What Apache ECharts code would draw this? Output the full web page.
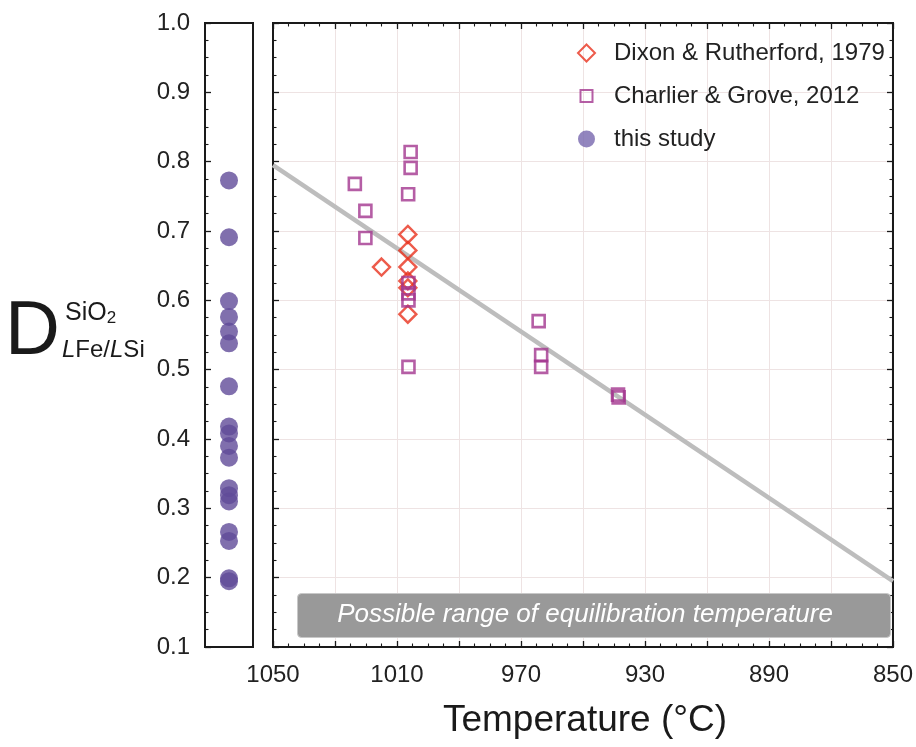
<!DOCTYPE html>
<html><head><meta charset="utf-8">
<script src="https://cdn.jsdelivr.net/npm/echarts@6/dist/echarts.min.js"></script>
<style>html,body{margin:0;padding:0;background:#fff}#c{width:916px;height:747px}</style>
</head><body><div id="c"></div>
<script>
// Dixon & Rutherford, 1979 : [temperature °C, D]
const dixonT = [1006.5, 1006.5, 1015, 1006.5, 1006.5, 1006.5, 1006.5];
const dixonD = [0.695, 0.672, 0.648, 0.648, 0.628, 0.618, 0.580];
// Charlier & Grove, 2012
const charlierT = [1005.6, 1005.6, 1023.6, 1006.4, 1020.2, 1020.2, 1006.3, 1006.3, 1006.3, 1006.3, 964.3, 963.5, 963.5, 938.7, 938.5];
const charlierD = [0.814, 0.791, 0.768, 0.753, 0.729, 0.690, 0.625, 0.610, 0.600, 0.504, 0.570, 0.521, 0.504, 0.464, 0.460];
// this study
const studyD = [0.773, 0.691, 0.599, 0.576, 0.555, 0.538, 0.476, 0.418, 0.408, 0.390, 0.373, 0.329, 0.319, 0.310, 0.266, 0.253, 0.199, 0.195];
// regression line end points
const fitT = [1050, 850];
const fitD = [0.795, 0.195];
const xTickLabels = [1050, 1010, 970, 930, 890, 850];
const yTickLabels = [0.1, 0.2, 0.3, 0.4, 0.5, 0.6, 0.7, 0.8, 0.9, 1.0];
const seriesNames = ['Dixon & Rutherford, 1979', 'Charlier & Grove, 2012', 'this study'];

const FONT = "'Liberation Sans', Arial, sans-serif";
const chart = echarts.init(document.getElementById('c'));
const tickStyle = {show: true, inside: true, length: 6, lineStyle: {color: '#1a1a1a', width: 1.3}};
const minorStyle = {show: true, splitNumber: 4, length: 3.5, lineStyle: {color: '#1a1a1a', width: 1.1}};
const lineBlack = {show: true, onZero: false, lineStyle: {color: '#1a1a1a', width: 2}};
const grid = {color: '#eee3e3', width: 1};

chart.setOption({
  animation: false,
  grid: [
    {left: 205, top: 23, width: 48, height: 624, show: true, borderColor: '#1a1a1a', borderWidth: 2},
    {left: 273, top: 23, width: 624, height: 624, show: true, borderColor: '#1a1a1a', borderWidth: 2}
  ],
  xAxis: [
    {gridIndex: 0, type: 'value', min: 0, max: 1, show: false},
    {gridIndex: 1, type: 'value', min: 850, max: 1050, interval: 20, inverse: true, position: 'bottom',
     axisLine: lineBlack, axisTick: tickStyle, minorTick: minorStyle,
     splitLine: {show: true, lineStyle: grid},
     axisLabel: {fontFamily: FONT, fontSize: 24, color: '#222', margin: 16,
       formatter: v => xTickLabels.indexOf(Math.round(v)) >= 0 ? String(Math.round(v)) : ''}},
    {gridIndex: 1, type: 'value', min: 850, max: 1050, interval: 20, inverse: true, position: 'top',
     axisLine: lineBlack, axisTick: tickStyle, minorTick: minorStyle, splitLine: {show: false}, axisLabel: {show: false}}
  ],
  yAxis: [
    {gridIndex: 0, type: 'value', min: 0.1, max: 1.0, interval: 0.1, position: 'left',
     axisLine: lineBlack, axisTick: tickStyle, minorTick: minorStyle, splitLine: {show: false},
     axisLabel: {fontFamily: FONT, fontSize: 24, color: '#222', margin: 15,
       formatter: v => yTickLabels.some(t => Math.abs(t - v) < 1e-6) ? v.toFixed(1) : ''}},
    {gridIndex: 1, type: 'value', min: 0.1, max: 1.0, interval: 0.1, position: 'left',
     axisLine: lineBlack, axisTick: tickStyle, minorTick: minorStyle,
     splitLine: {show: true, lineStyle: grid}, axisLabel: {show: false}},
    {gridIndex: 1, type: 'value', min: 0.1, max: 1.0, interval: 0.1, position: 'right',
     axisLine: lineBlack, axisTick: tickStyle, minorTick: minorStyle, splitLine: {show: false}, axisLabel: {show: false}}
  ],
  legend: {
    orient: 'vertical', left: 577, top: 41, itemWidth: 17, itemHeight: 17, itemGap: 19, padding: 0,
    textStyle: {fontFamily: FONT, fontSize: 24, color: '#222', padding: [0, 0, 0, 14]},
    data: [
      {name: seriesNames[0], icon: 'diamond'},
      {name: seriesNames[1], icon: 'path://M0,0M2.5,2.5h12v12h-12zM17,17'},
      {name: seriesNames[2], icon: 'circle', itemStyle: {color: '#7766ae'}}
    ]
  },
  series: [
    {name: 'fit', type: 'line', xAxisIndex: 1, yAxisIndex: 1, symbol: 'none', silent: true, z: 3,
     lineStyle: {color: '#bdbdbd', width: 4.5},
     data: fitT.map((t, i) => [t, fitD[i]])},
    {name: seriesNames[0], type: 'scatter', xAxisIndex: 1, yAxisIndex: 1, symbol: 'diamond', symbolSize: 17, z: 4,
     itemStyle: {color: 'rgba(0,0,0,0)', borderColor: '#e8321e', borderWidth: 2.4},
     data: dixonT.map((t, i) => [t, dixonD[i]])},
    {name: seriesNames[1], type: 'scatter', xAxisIndex: 1, yAxisIndex: 1, symbol: 'rect', symbolSize: 12, z: 4,
     itemStyle: {color: 'rgba(0,0,0,0)', borderColor: '#a3368f', borderWidth: 2.6},
     data: charlierT.map((t, i) => [t, charlierD[i]])},
    {name: seriesNames[2], type: 'scatter', xAxisIndex: 0, yAxisIndex: 0, symbol: 'circle', symbolSize: 18, z: 4,
     itemStyle: {color: '#604b98'},
     data: studyD.map(d => [0.5, d])}
  ],
  graphic: [
    {type: 'rect', left: 297, top: 593, shape: {width: 593, height: 44, r: 4}, z: 2,
     style: {fill: '#999999', stroke: '#c8c8c8', lineWidth: 1}},
    {type: 'text', x: 585, y: 615, z: 2,
     style: {text: 'Possible range of equilibration temperature', fill: '#ffffff', fontFamily: FONT,
       fontStyle: 'italic', fontSize: 26, align: 'center', verticalAlign: 'middle'}},
    {type: 'text', x: 585, y: 721,
     style: {text: 'Temperature (°C)', fill: '#1a1a1a', fontFamily: FONT, fontSize: 37, align: 'center', verticalAlign: 'middle'}},
    {type: 'text', x: 5, y: 333,
     style: {text: 'D', fill: '#1a1a1a', fontFamily: FONT, fontSize: 76, align: 'left', verticalAlign: 'middle'}},
    {type: 'text', x: 65, y: 313,
     style: {text: '{a|SiO}{b|2}', fill: '#1a1a1a', fontFamily: FONT, align: 'left', verticalAlign: 'middle',
       rich: {a: {fontSize: 25, fontFamily: FONT, fill: '#1a1a1a'}, b: {fontSize: 17, fontFamily: FONT, fill: '#1a1a1a', padding: [10, 0, 0, 0]}}}},
    {type: 'text', x: 62, y: 350,
     style: {text: '{i|L}{a|Fe/}{i|L}{a|Si}', fill: '#1a1a1a', fontFamily: FONT, align: 'left', verticalAlign: 'middle',
       rich: {a: {fontSize: 24, fontFamily: FONT, fill: '#1a1a1a'}, i: {fontSize: 24, fontFamily: FONT, fontStyle: 'italic', fill: '#1a1a1a'}}}}
  ]
});
</script></body></html>
